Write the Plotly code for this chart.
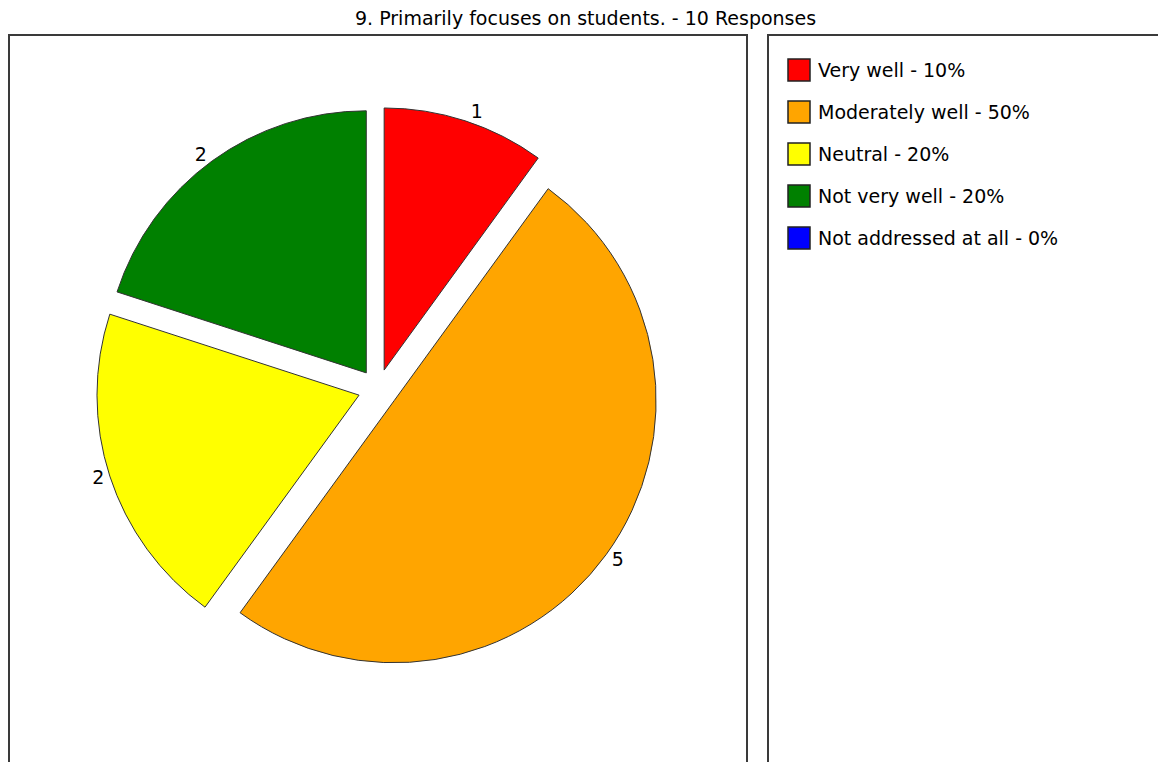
import plotly.graph_objects as go

# Survey responses for question 9
title = "9. Primarily focuses on students. - 10 Responses"
categories = ["Very well", "Moderately well", "Neutral", "Not very well", "Not addressed at all"]
counts = [1, 5, 2, 2, 0]
colors = ["#FF0000", "#FFA500", "#FFFF00", "#008000", "#0000FF"]

W, H = 1158, 762
total = sum(counts)
FONT = "DejaVu Sans"
FSIZE = 19

def px_x(x):
    return x / W

def px_y(y):
    return 1 - y / H

# Pie placement (pixels)
cx, cy, half = 378, 389, 282
pull = 0.076

fig = go.Figure()
fig.add_trace(go.Pie(
    labels=categories,
    values=counts,
    sort=False,
    direction="clockwise",
    rotation=0,
    pull=[pull] * len(counts),
    marker=dict(colors=colors,
                line=dict(color="#333333", width=[1 if c else 0 for c in counts])),
    text=[str(c) if c else "" for c in counts],
    textinfo="text",
    textposition="outside",
    outsidetextfont=dict(family=FONT, size=FSIZE, color="#000000"),
    hoverinfo="label+value+percent",
    showlegend=False,
    domain=dict(x=[px_x(cx - half), px_x(cx + half)],
                y=[px_y(cy + half), px_y(cy - half)]),
))

shapes = []
annotations = []

# Panel frames
frame = dict(color="#3a3a3a", width=2)
shapes.append(dict(type="rect", xref="paper", yref="paper",
                   x0=px_x(9), x1=px_x(747), y0=px_y(770), y1=px_y(35),
                   line=frame, fillcolor="rgba(0,0,0,0)"))
shapes.append(dict(type="rect", xref="paper", yref="paper",
                   x0=px_x(768), x1=px_x(1170), y0=px_y(770), y1=px_y(35),
                   line=frame, fillcolor="rgba(0,0,0,0)"))

# Legend entries
for i, (cat, cnt, col) in enumerate(zip(categories, counts, colors)):
    yc = 70 + i * 42
    shapes.append(dict(type="rect", xref="paper", yref="paper",
                       x0=px_x(788), x1=px_x(810), y0=px_y(yc + 11), y1=px_y(yc - 11),
                       line=dict(color="#222222", width=1.5), fillcolor=col))
    pct = round(100 * cnt / total)
    annotations.append(dict(xref="paper", yref="paper", x=px_x(816), y=px_y(yc),
                            xanchor="left", yanchor="middle", showarrow=False,
                            text=f"{cat} - {pct}%",
                            font=dict(family=FONT, size=FSIZE, color="#000000")))

# Title
annotations.append(dict(xref="paper", yref="paper", x=px_x(585), y=px_y(18),
                        xanchor="center", yanchor="middle", showarrow=False,
                        text=title, font=dict(family=FONT, size=FSIZE, color="#000000")))

fig.update_layout(
    width=W, height=H,
    margin=dict(l=0, r=0, t=0, b=0),
    paper_bgcolor="white", plot_bgcolor="white",
    shapes=shapes, annotations=annotations,
)

fig.write_html("out.html")
